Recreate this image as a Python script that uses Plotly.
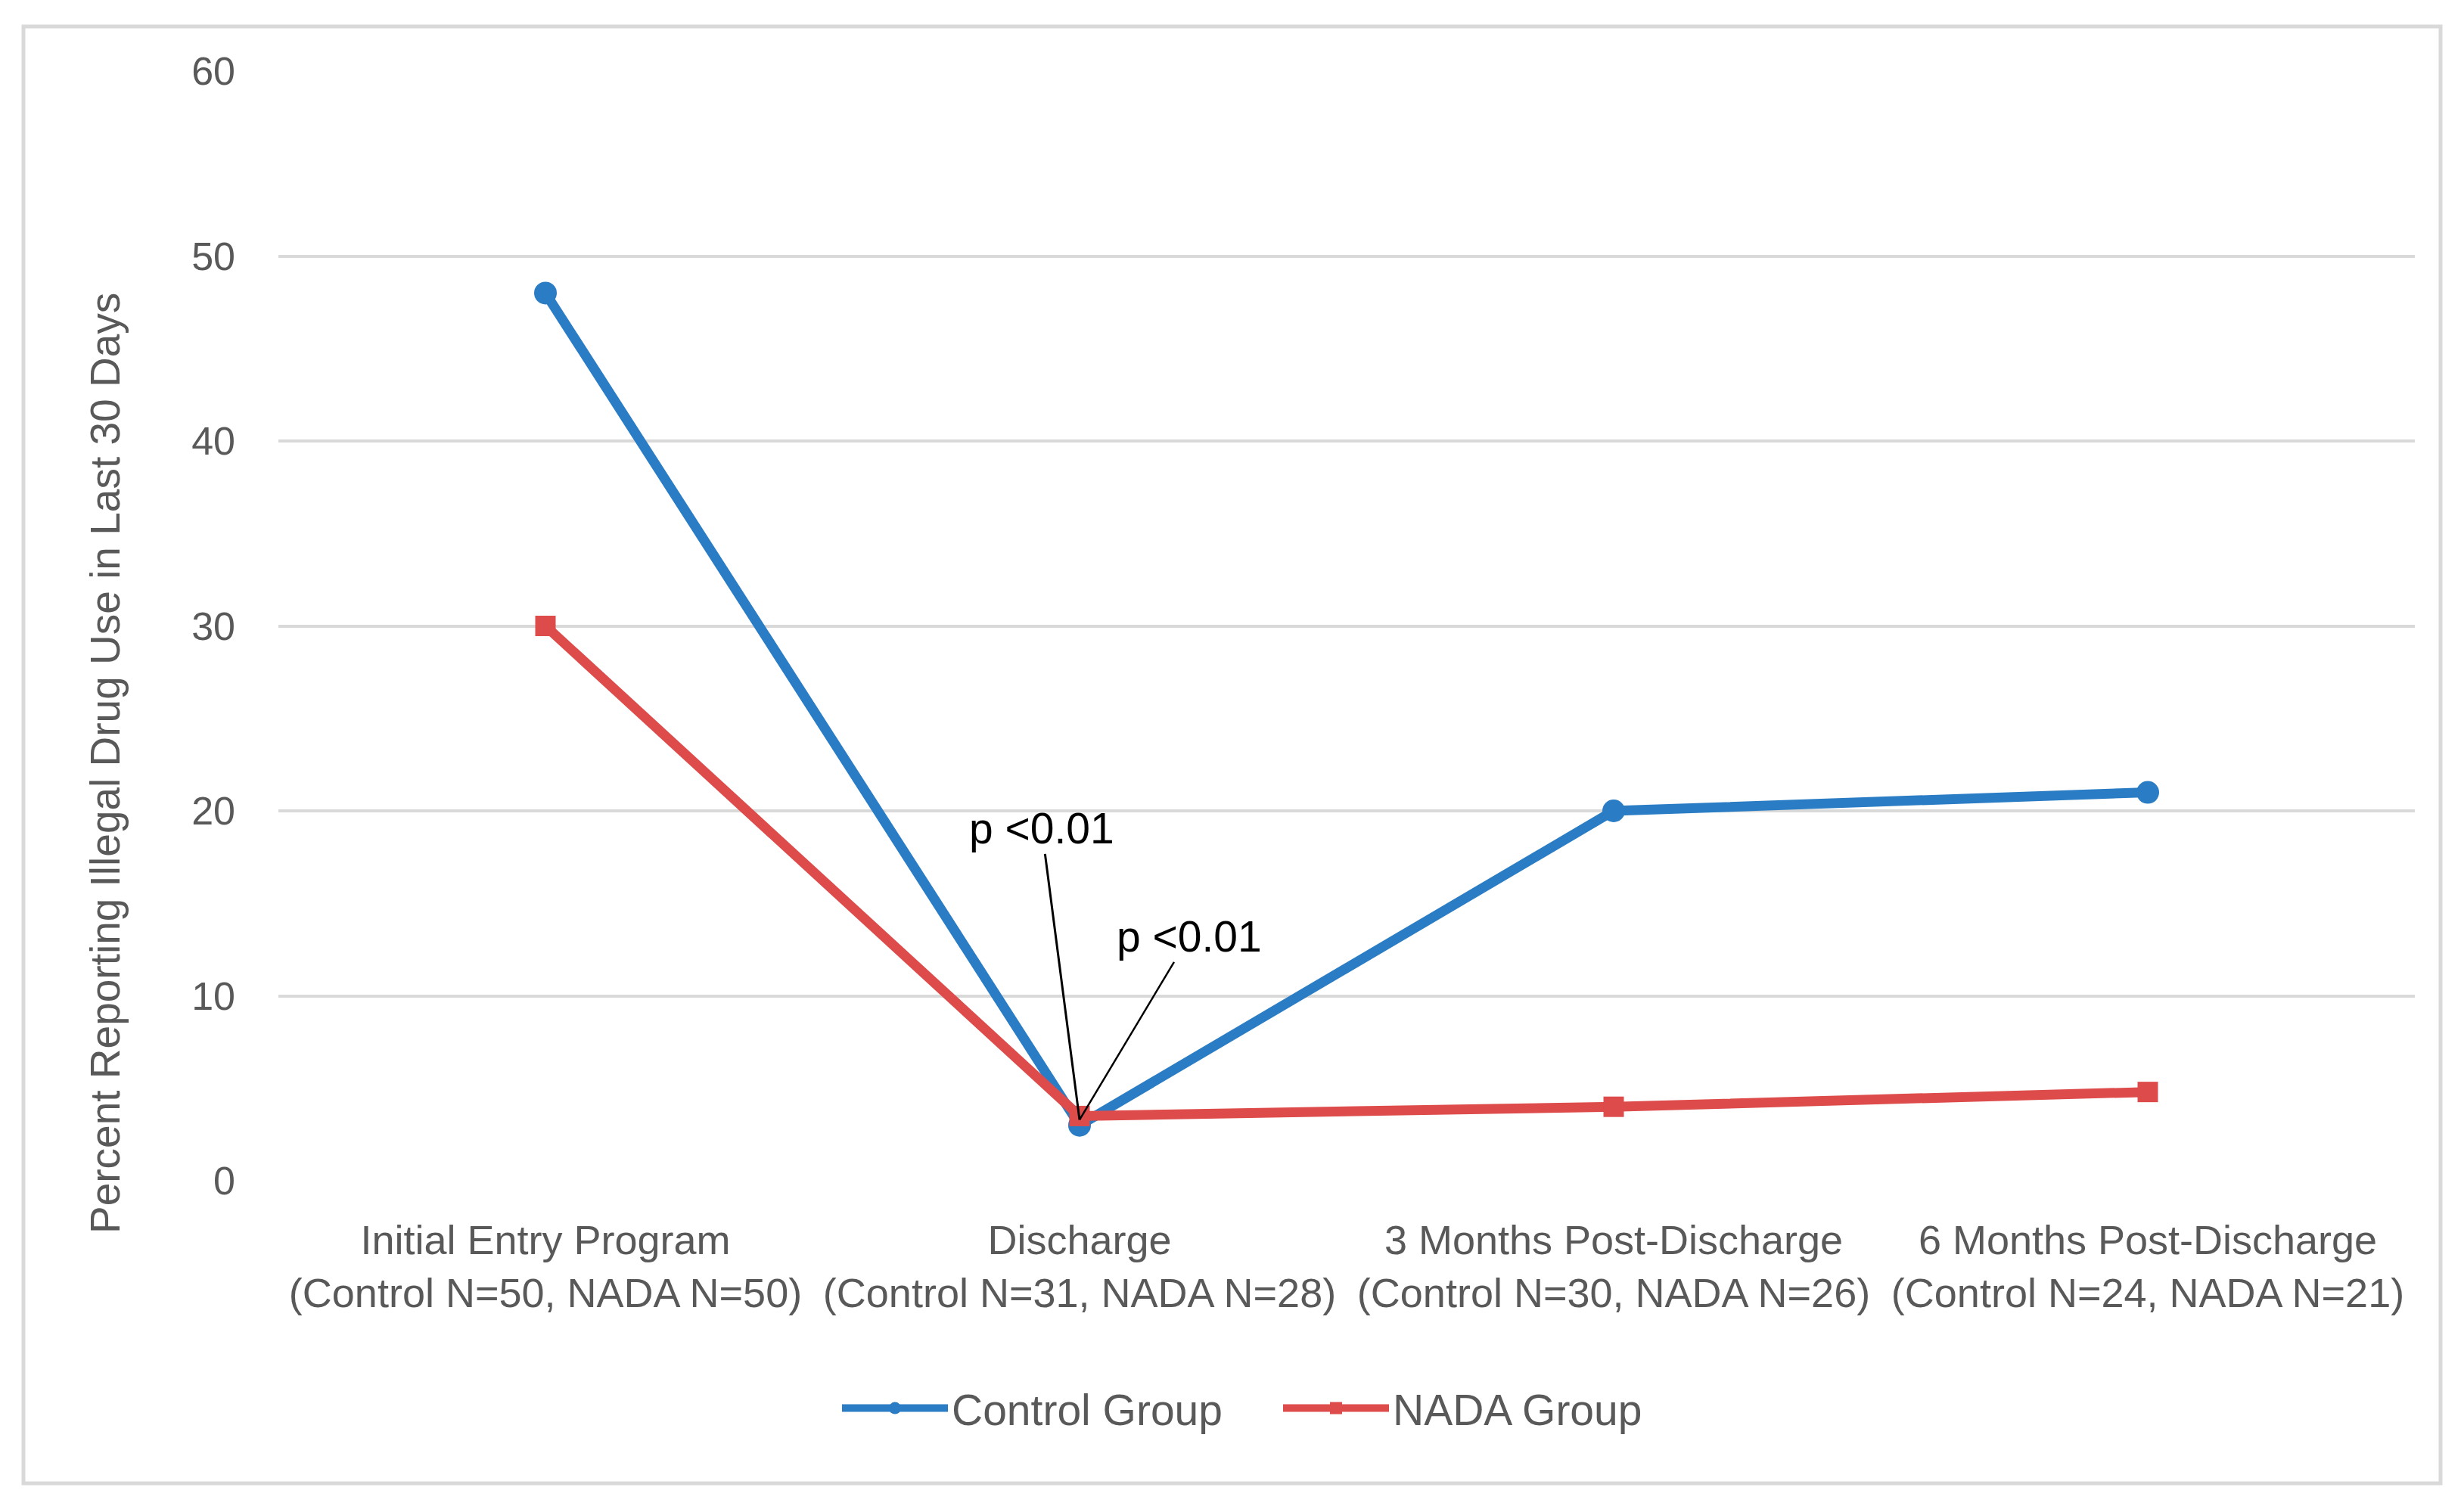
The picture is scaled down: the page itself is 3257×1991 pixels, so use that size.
import plotly.graph_objects as go

# ---- data ----
categories = [
    "Initial Entry Program<br>(Control N=50, NADA N=50)",
    "Discharge<br>(Control N=31, NADA N=28)",
    "3 Months Post-Discharge<br>(Control N=30, NADA N=26)",
    "6 Months Post-Discharge<br>(Control N=24, NADA N=21)",
]
control_values = [48, 3, 20, 21]
nada_values = [30, 3.5, 4, 4.8]
y_ticks = [0, 10, 20, 30, 40, 50, 60]
annotation_texts = ["p <0.01", "p <0.01"]
y_title = "Percent Reporting Illegal Drug Use in Last 30 Days"

# ---- style / layout (target page pixels; page body has an 8px margin) ----
OFF = 8
W, H = 3257 - 2 * OFF, 1991 - 2 * OFF
PLOT_L, PLOT_R, PLOT_T, PLOT_B = 368, 3192, 94, 1561  # target page coords
ML = PLOT_L - OFF
MT = PLOT_T - OFF
MR = W - (PLOT_R - OFF)
MB = H - (PLOT_B - OFF)
PW, PH = W - ML - MR, H - MT - MB
FONT = "Liberation Sans, Arial, sans-serif"
GRAY = "#595959"
BLUE = "#2A7DC4"
RED = "#DE4B4B"


def px_x(p):
    return (p - OFF - ML) / PW


def px_y(p):
    return (H - MB - (p - OFF)) / PH


fig = go.Figure()
fig.add_trace(go.Scatter(
    x=categories, y=control_values, name="Control Group", mode="lines+markers",
    line=dict(color=BLUE, width=13), marker=dict(symbol="circle", size=30, color=BLUE),
))
fig.add_trace(go.Scatter(
    x=categories, y=nada_values, name="NADA Group", mode="lines+markers",
    line=dict(color=RED, width=13), marker=dict(symbol="square", size=27, color=RED),
))

# p-value callouts pointing to the Discharge point
fig.add_annotation(x=categories[1], y=3.3, text=annotation_texts[0], showarrow=True,
                   arrowhead=0, arrowwidth=3, arrowcolor="black", standoff=0,
                   ax=-50, ay=-385, font=dict(family=FONT, size=57, color="black"))
fig.add_annotation(x=categories[1], y=3.3, text=annotation_texts[1], showarrow=True,
                   arrowhead=0, arrowwidth=2.5, arrowcolor="black", standoff=0,
                   ax=145, ay=-242, font=dict(family=FONT, size=57, color="black"))

# y-axis title (positioned like the original, not centred on the axis)
fig.add_annotation(xref="paper", yref="paper", x=px_x(139), y=px_y(1009),
                   text=y_title, textangle=-90, showarrow=False,
                   xanchor="center", yanchor="middle",
                   font=dict(family=FONT, size=55, color=GRAY))

# outer chart frame
fig.add_shape(type="rect", xref="paper", yref="paper",
              x0=px_x(31), x1=px_x(3226), y0=px_y(1961), y1=px_y(35),
              line=dict(color="#D9D9D9", width=5), fillcolor="rgba(0,0,0,0)", layer="below")

fig.update_layout(
    width=W, height=H,
    margin=dict(l=ML, r=MR, t=MT, b=MB, autoexpand=False),
    paper_bgcolor="white", plot_bgcolor="white",
    font=dict(family=FONT, size=54, color=GRAY),
    showlegend=True,
    legend=dict(orientation="h", x=px_x(1108), xanchor="left", y=px_y(1862), yanchor="middle",
                font=dict(family=FONT, size=57, color=GRAY), itemwidth=140,
                entrywidth=428, entrywidthmode="pixels",
                bgcolor="rgba(0,0,0,0)", traceorder="normal"),
    xaxis=dict(type="category", categoryorder="array", categoryarray=categories,
               range=[-0.5, 3.5], showgrid=False, zeroline=False, showline=False,
               ticks="", tickfont=dict(family=FONT, size=54, color=GRAY),
               ticklabelstandoff=42, automargin=False),
    yaxis=dict(range=[0, 60], tickvals=y_ticks, showgrid=True, gridcolor="#D9D9D9",
               gridwidth=4, zeroline=False, showline=False, ticks="",
               tickfont=dict(family=FONT, size=52, color=GRAY), ticklabelstandoff=56,
               automargin=False),
)

fig.write_html("out.html")
